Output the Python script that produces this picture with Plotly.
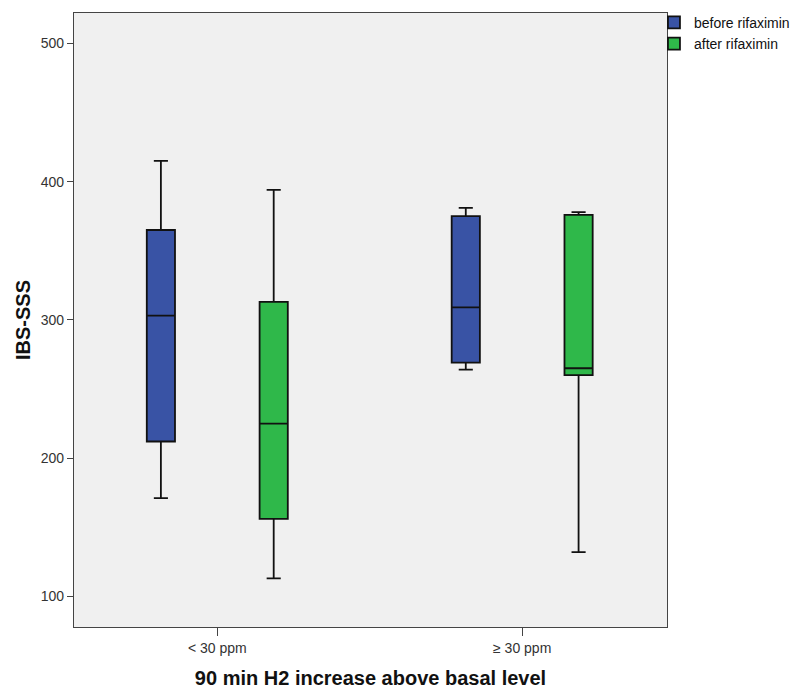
import plotly.graph_objects as go

categories = ["< 30 ppm", "≥ 30 ppm"]
series_names = ["before rifaximin", "after rifaximin"]
colors = ["#3953A5", "#2FB84A"]

# five-number summaries per series: [<30 ppm, >=30 ppm]
lower = {"before rifaximin": [171, 264], "after rifaximin": [113, 132]}
q1 = {"before rifaximin": [212, 269], "after rifaximin": [156, 260]}
median = {"before rifaximin": [303, 309], "after rifaximin": [225, 265]}
q3 = {"before rifaximin": [365, 375], "after rifaximin": [313, 376]}
upper = {"before rifaximin": [415, 381], "after rifaximin": [394, 378]}

y_ticks = [100, 200, 300, 400, 500]

fig = go.Figure()
for name, col in zip(series_names, colors):
    fig.add_trace(go.Box(
        name=name,
        x=categories,
        q1=q1[name], median=median[name], q3=q3[name],
        lowerfence=lower[name], upperfence=upper[name],
        fillcolor=col,
        line=dict(color="#111111", width=1.8),
        whiskerwidth=0.5,
        boxpoints=False,
        hoverinfo="y",
    ))

font_family = "Liberation Sans, Arial, sans-serif"
fig.update_layout(
    width=790, height=691,
    margin=dict(l=74, r=123, t=13, b=64, autoexpand=False),
    paper_bgcolor="white",
    plot_bgcolor="#F0F0F0",
    boxmode="group",
    boxgap=0.26,
    boxgroupgap=0.75,
    font=dict(family=font_family, size=12, color="#222222"),
    legend=dict(
        x=0.978, y=1.01, xanchor="left", yanchor="top",
        xref="paper", yref="paper",
        bgcolor="rgba(0,0,0,0)",
        font=dict(size=14, color="#111111"),
        tracegroupgap=0, itemwidth=30,
    ),
    showlegend=True,
)
fig.update_xaxes(
    type="category",
    range=[-0.47, 1.475],
    showline=True, linecolor="#444444", linewidth=1.3, mirror=True,
    ticks="outside", ticklen=8, tickcolor="#444444",
    showgrid=False, zeroline=False,
    tickfont=dict(size=14, color="#333333"),
    title=dict(text="<b>90 min H2 increase above basal level</b>",
               font=dict(size=20, color="#111111"), standoff=16),
)
fig.update_yaxes(
    range=[77.8, 522],
    tickvals=y_ticks,
    showline=True, linecolor="#444444", linewidth=1.3, mirror=True,
    ticks="outside", ticklen=6, tickcolor="#444444",
    showgrid=False, zeroline=False,
    tickfont=dict(size=14, color="#333333"),
    title=dict(text="<b>IBS-SSS</b>",
               font=dict(size=20, color="#111111"), standoff=4),
)

fig.write_html("out.html")
